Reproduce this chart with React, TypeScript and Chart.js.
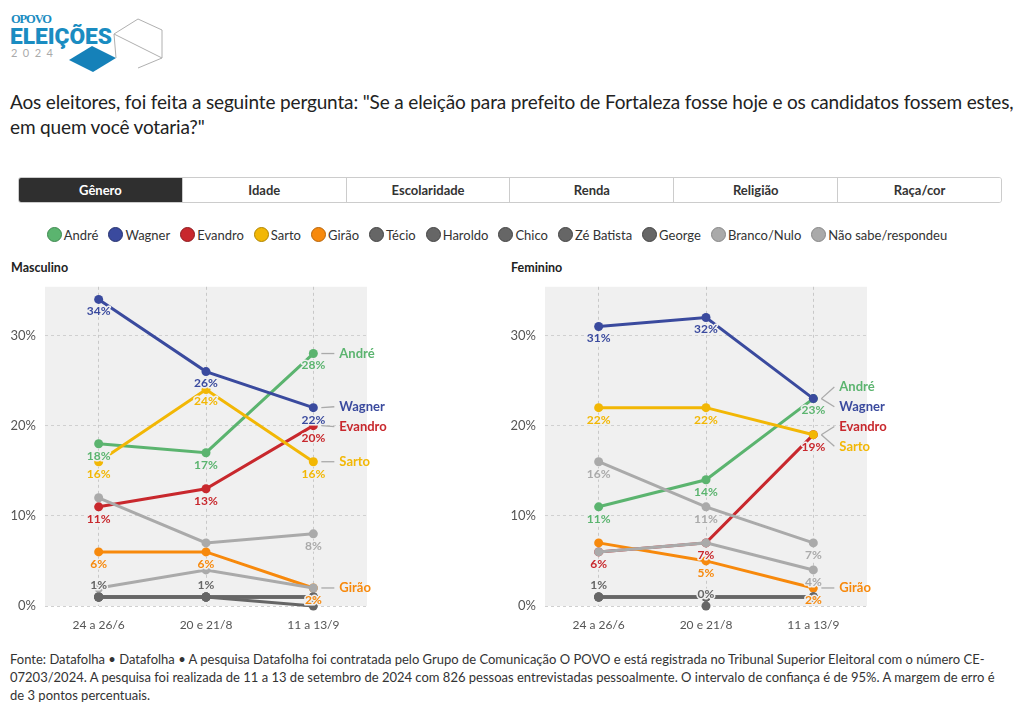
import React, { useEffect, useRef } from "react";
import { Chart, registerables } from "chart.js";

Chart.register(...registerables);

// ---------- data ----------
const periods = ["24 a 26/6", "20 e 21/8", "11 a 13/9"];
const candidates = [
  "André", "Wagner", "Evandro", "Sarto", "Girão", "Técio", "Haroldo",
  "Chico", "Zé Batista", "George", "Branco/Nulo", "Não sabe/respondeu",
];
const candidateColors = [
  "#5bb46f", "#3a4a9e", "#c8282d", "#f2b705", "#f7890c", "#666666", "#666666",
  "#666666", "#666666", "#666666", "#aaaaaa", "#aaaaaa",
];
const legendBorders = [
  "#3f8a50", "#27336f", "#8e1b1f", "#b08500", "#b8650a", "#444444", "#444444",
  "#444444", "#444444", "#444444", "#888888", "#888888",
];
const tabs = ["Gênero", "Idade", "Escolaridade", "Renda", "Religião", "Raça/cor"];
const yTickValues = [0, 10, 20, 30];

// Masculino
const mascAndre = [18, 17, 28];
const mascWagner = [34, 26, 22];
const mascEvandro = [11, 13, 20];
const mascSarto = [16, 24, 16];
const mascGirao = [6, 6, 2];
const mascTecio = [1, 1, 1];
const mascHaroldo = [1, 1, 0];
const mascChico = [1, 1, 1];
const mascZeBatista = [1, 1, 1];
const mascGeorge = [1, 1, 1];
const mascBranco = [12, 7, 8];
const mascNaoSabe = [2, 4, 2];

// Feminino
const femAndre = [11, 14, 23];
const femWagner = [31, 32, 23];
const femEvandro = [6, 7, 19];
const femSarto = [22, 22, 19];
const femGirao = [7, 5, 2];
const femTecio = [1, 1, 1];
const femHaroldo = [null, 0, null];
const femChico = [1, 1, 1];
const femZeBatista = [1, 1, 1];
const femGeorge = [1, 1, 1];
const femBranco = [16, 11, 7];
const femNaoSabe = [6, 7, 4];

const mascSeries = [
  mascAndre, mascWagner, mascEvandro, mascSarto, mascGirao, mascTecio, mascHaroldo,
  mascChico, mascZeBatista, mascGeorge, mascBranco, mascNaoSabe,
];
const femSeries = [
  femAndre, femWagner, femEvandro, femSarto, femGirao, femTecio, femHaroldo,
  femChico, femZeBatista, femGeorge, femBranco, femNaoSabe,
];

// which point labels are suppressed (collision avoidance in the original)
const ALL = [0, 1, 2];
const mascHidden: Record<number, number[]> = {
  5: [2], 6: ALL, 7: ALL, 8: ALL, 9: ALL, 10: [0, 1], 11: ALL,
};
const femHidden: Record<number, number[]> = {
  1: [2], 3: [2], 4: [0], 5: [1, 2], 7: ALL, 8: ALL, 9: ALL, 11: [0, 1],
};
const endLabelSeries = [0, 1, 2, 3, 4];

const FONT = "Lato, 'Open Sans', sans-serif";

function makePlugins(hidden: Record<number, number[]>) {
  const bg = {
    id: "plotBg",
    beforeDraw(chart: any) {
      const { ctx, chartArea: a } = chart;
      ctx.save();
      ctx.fillStyle = "#f0f0f0";
      ctx.fillRect(a.left, a.top, a.right - a.left, a.bottom - a.top);
      ctx.restore();
    },
  };
  const labels = {
    id: "valueLabels",
    afterDatasetsDraw(chart: any) {
      const ctx = chart.ctx;
      ctx.save();
      ctx.font = `bold 12px ${FONT}`;
      ctx.textAlign = "center";
      ctx.textBaseline = "middle";
      ctx.lineJoin = "round";
      chart.data.datasets.forEach((ds: any, di: number) => {
        const meta = chart.getDatasetMeta(di);
        const hide = hidden[di] || [];
        const above = di >= 5 && di <= 9;
        meta.data.forEach((el: any, i: number) => {
          const v = ds.data[i];
          if (v === null || v === undefined || hide.includes(i)) return;
          const y = el.y + (above ? -12 : 12);
          const t = `${v}%`;
          ctx.strokeStyle = "#f0f0f0";
          ctx.lineWidth = 3;
          ctx.strokeText(t, el.x, y);
          ctx.fillStyle = ds.borderColor;
          ctx.fillText(t, el.x, y);
        });
      });
      // end labels
      const items = endLabelSeries.map((di) => {
        const el = chart.getDatasetMeta(di).data[2];
        return { di, x: el.x, y: el.y };
      });
      items.sort((a, b) => a.y - b.y || a.di - b.di);
      const gap = 19.8;
      let groups = items.map((it) => ({ m: [it], c: it.y }));
      let changed = true;
      while (changed) {
        changed = false;
        for (let k = 0; k < groups.length - 1; k++) {
          const g1 = groups[k], g2 = groups[k + 1];
          const b1 = g1.c + ((g1.m.length - 1) * gap) / 2;
          const t2 = g2.c - ((g2.m.length - 1) * gap) / 2;
          if (t2 - b1 < gap) {
            const m = g1.m.concat(g2.m);
            const c = m.reduce((s, it) => s + it.y, 0) / m.length;
            groups.splice(k, 2, { m, c });
            changed = true;
            break;
          }
        }
      }
      ctx.font = `bold 13px ${FONT}`;
      ctx.textAlign = "left";
      groups.forEach((g) => {
        g.m.forEach((it, j) => {
          const ly = g.c + (j - (g.m.length - 1) / 2) * gap;
          ctx.strokeStyle = "#aaaaaa";
          ctx.lineWidth = 1.3;
          ctx.beginPath();
          ctx.moveTo(it.x + 8, it.y);
          ctx.lineTo(it.x + 21, ly);
          ctx.stroke();
          ctx.fillStyle = candidateColors[it.di];
          ctx.fillText(candidates[it.di], it.x + 26, ly);
        });
      });
      ctx.restore();
    },
  };
  return [bg, labels];
}

function buildConfig(series: (number | null)[][], hidden: Record<number, number[]>) {
  const datasets = series.map((d, i) => ({
    label: candidates[i],
    data: d,
    borderColor: candidateColors[i],
    backgroundColor: candidateColors[i],
    borderWidth: 3,
    pointRadius: 4.5,
    pointHoverRadius: 4.5,
    pointBorderWidth: 0,
    tension: 0,
    spanGaps: false,
    clip: 6,
    order: 12 - i,
  }));
  return {
    type: "line" as const,
    data: { labels: periods, datasets },
    plugins: makePlugins(hidden),
    options: {
      animation: false as const,
      responsive: false,
      events: [],
      layout: { padding: { top: 0, right: 133, left: 0, bottom: 0 } },
      plugins: { legend: { display: false }, tooltip: { enabled: false } },
      scales: {
        x: {
          type: "category" as const,
          offset: true,
          afterFit(scale: any) { scale.height = 34; },
          grid: {
            offset: false,
            color: "#c8c8c8",
            drawTicks: false,
            tickLength: 0,
          },
          border: { display: false, dash: [3, 3] },
          ticks: { color: "#555555", font: { family: FONT, size: 12 }, padding: 12 },
        },
        y: {
          min: 0,
          max: 35.4,
          afterFit(scale: any) { scale.width = 45; },
          afterBuildTicks(scale: any) {
            scale.ticks = yTickValues.map((v) => ({ value: v }));
          },
          grid: { color: "#d0d0d0", drawTicks: false, tickLength: 0 },
          border: { display: false, dash: [3, 3] },
          ticks: {
            color: "#555555",
            font: { family: FONT, size: 13 },
            padding: 9,
            callback: (v: any) => `${v}%`,
          },
        },
      },
    },
  };
}

function LineChart({ series, hidden }: { series: (number | null)[][]; hidden: Record<number, number[]> }) {
  const ref = useRef<HTMLCanvasElement>(null);
  useEffect(() => {
    if (!ref.current) return;
    const chart = new Chart(ref.current, buildConfig(series, hidden) as any);
    return () => chart.destroy();
  }, []);
  return <canvas ref={ref} width={500} height={370} style={{ display: "block" }} />;
}

function Logo() {
  return (
    <svg width="170" height="80" style={{ position: "absolute", left: 0, top: 0 }}>
      <text x="11" y="23" fontFamily="'Liberation Serif', serif" fontWeight="bold" fontSize="12.5" fill="#1a8cc1" textLength="41">OPOVO</text>
      <text x="10" y="44" fontFamily="Roboto, sans-serif" fontWeight="900" fontSize="22" fill="#1a8cc1" textLength="102" lengthAdjust="spacingAndGlyphs">ELEIÇÕES</text>
      <text x="11" y="57" fontFamily="Lato, sans-serif" fontSize="11" fill="#aaaaaa" textLength="42">2024</text>
      <polygon points="69,60 92,46 116,58 93,72" fill="#1581b9" />
      <g fill="none" stroke="#b0b0b0" strokeWidth="1">
        <polyline points="114,34 138,19 162,30 162,58 138,68" />
        <polyline points="114,34 162,58" />
        <polyline points="114,34 116,58" />
      </g>
    </svg>
  );
}

export default function App() {
  const abs = (l: number, t: number): React.CSSProperties => ({ position: "absolute", left: l, top: t });
  return (
    <div style={{ position: "absolute", left: 0, top: 0, width: 1020, height: 713, background: "#fff", fontFamily: FONT, color: "#222" }}>
      <Logo />
      <div style={{ ...abs(10, 89), width: 1005, fontSize: 19, lineHeight: "25px", color: "#222", letterSpacing: -0.15 }}>
        Aos eleitores, foi feita a seguinte pergunta: "Se a eleição para prefeito de Fortaleza fosse hoje e os candidatos fossem estes, em quem você votaria?"
      </div>
      <div style={{ ...abs(18, 177), width: 984, height: 26, display: "flex", border: "1px solid #cccccc", borderRadius: 3, boxSizing: "border-box", overflow: "hidden" }}>
        {tabs.map((t, i) => (
          <div key={t} style={{
            flex: 1, display: "flex", alignItems: "center", justifyContent: "center",
            fontSize: 13, fontWeight: "bold",
            background: i === 0 ? "#2f2f2f" : "#ffffff",
            color: i === 0 ? "#ffffff" : "#333333",
            borderLeft: i > 0 ? "1px solid #cccccc" : "none",
          }}>{t}</div>
        ))}
      </div>
      <div style={{ ...abs(0, 226), width: 1004, height: 17, display: "flex", justifyContent: "center", alignItems: "center", fontSize: 13, color: "#333" }}>
        {candidates.map((c, i) => (
          <div key={c} style={{ display: "flex", alignItems: "center", marginRight: 10 }}>
            <span style={{ display: "inline-block", width: 13, height: 13, borderRadius: "50%", background: candidateColors[i], border: `1px solid ${legendBorders[i]}`, marginRight: 2 }} />
            <span>{c}</span>
          </div>
        ))}
      </div>
      <div style={{ ...abs(11, 260), fontSize: 12.5, fontWeight: "bold", color: "#222" }}>Masculino</div>
      <div style={{ ...abs(511, 260), fontSize: 12.5, fontWeight: "bold", color: "#222" }}>Feminino</div>
      <div style={abs(0, 270)}>
        <LineChart series={mascSeries} hidden={mascHidden} />
      </div>
      <div style={abs(500, 270)}>
        <LineChart series={femSeries} hidden={femHidden} />
      </div>
      <div style={{ ...abs(10, 650), width: 1000, fontSize: 13, lineHeight: "18px", color: "#333" }}>
        Fonte: Datafolha • Datafolha • A pesquisa Datafolha foi contratada pelo Grupo de Comunicação O POVO e está registrada no Tribunal Superior Eleitoral com o número CE-07203/2024. A pesquisa foi realizada de 11 a 13 de setembro de 2024 com 826 pessoas entrevistadas pessoalmente. O intervalo de confiança é de 95%. A margem de erro é de 3 pontos percentuais.
      </div>
    </div>
  );
}
